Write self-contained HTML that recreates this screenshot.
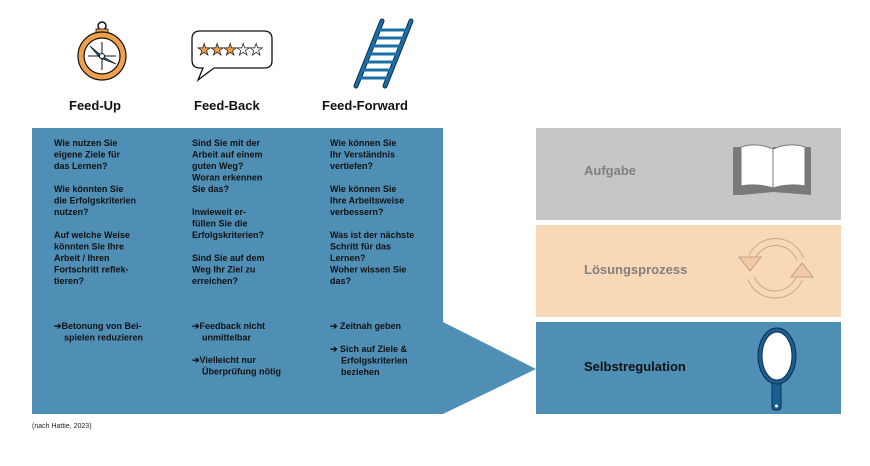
<!DOCTYPE html>
<html><head><meta charset="utf-8"><style>
html,body{margin:0;padding:0;background:#fff;}
svg{display:block;font-family:"Liberation Sans",sans-serif;}
.t{font-size:9px;font-weight:bold;fill:#111;}
.h{font-size:13px;font-weight:bold;fill:#111;}
</style></head><body>
<svg width="870" height="466" viewBox="0 0 870 466" xmlns="http://www.w3.org/2000/svg">
<path d="M32 128 H443 V322 L536 369 L443 414 H32 Z" fill="#4f8fb5"/>
<rect x="536" y="128" width="305" height="92" fill="#c6c6c6"/>
<rect x="536" y="225" width="305" height="92" fill="#f9d8b8"/>
<rect x="536" y="322" width="305" height="92" fill="#4f8fb5"/>
<text x="584" y="175" font-size="13" font-weight="bold" fill="#808080">Aufgabe</text>
<text x="584" y="274" font-size="13" font-weight="bold" fill="#808080">Lösungsprozess</text>
<text x="584" y="371" font-size="13" font-weight="bold" fill="#111">Selbstregulation</text>
<!-- book -->
<path d="M733 147 H741 V151 L773 151 V147 H811 V195 L773 192 L741 195 L733 195 Z" fill="#7a7a7a"/>
<path d="M741 147 Q757 142 773 149 V188 Q757 183 741 186 Z" fill="#fff" stroke="#7a7a7a"/>
<path d="M773 149 Q789 142 805 147 V186 Q789 183 773 188 Z" fill="#fff" stroke="#7a7a7a"/>
<!-- cycle -->
<g fill="none">
<path d="M752 257 A26 26 0 0 1 800 259" stroke="#c9a78d" stroke-width="8"/>
<path d="M752 257 A26 26 0 0 1 800 259" stroke="#f9d8b8" stroke-width="6"/>
<path d="M799 279 A26 26 0 0 1 751 278" stroke="#c9a78d" stroke-width="8"/>
<path d="M799 279 A26 26 0 0 1 751 278" stroke="#f9d8b8" stroke-width="6"/>
</g>
<path d="M739 257 H761 L750 271 Z" fill="#f5c9a4" stroke="#b0957f" stroke-width="0.8"/>
<path d="M791 277 H813 L802 263 Z" fill="#f5c9a4" stroke="#b0957f" stroke-width="0.8"/>
<!-- mirror -->
<rect x="772" y="380" width="9" height="30" rx="3" fill="#1a5f91" stroke="#0d2f4a"/>
<circle cx="776.5" cy="406" r="1.5" fill="#fff"/>
<ellipse cx="777" cy="356" rx="19" ry="28" fill="#1a5f91" stroke="#0d2f4a"/>
<ellipse cx="777" cy="356" rx="15" ry="24" fill="#fff" stroke="#0d2f4a"/>
<!-- compass -->
<circle cx="102" cy="26" r="4" fill="none" stroke="#111" stroke-width="1.5"/>
<rect x="96" y="29" width="12" height="4" fill="#f0a04b" stroke="#111" stroke-width="0.8"/>
<circle cx="102" cy="56" r="24" fill="#f0a04b" stroke="#111" stroke-width="1.2"/>
<circle cx="102" cy="56" r="18" fill="#fff" stroke="#111" stroke-width="1.2"/>
<path d="M102 42 V70 M88 56 H116" stroke="#111" stroke-width="1"/>
<path d="M90 46 L102 56 L116 64 L100 58 Z" fill="#1a5f91" stroke="#111" stroke-width="0.7"/>
<circle cx="102" cy="56" r="2.5" fill="#fff" stroke="#111"/>
<!-- speech bubble -->
<path d="M200 31 H264 Q272 31 272 39 V61 Q272 68 264 68 H214 L198 80 L203 68 H200 Q192 68 192 60 V39 Q192 31 200 31 Z" fill="#fff" stroke="#111" stroke-width="1.3"/>
<g font-size="16" stroke="#111" stroke-width="0.7">
<text x="197" y="55" fill="#f0a04b">★</text><text x="210" y="55" fill="#f0a04b">★</text><text x="223" y="55" fill="#f0a04b">★</text><text x="236" y="55" fill="#fff">★</text><text x="249" y="55" fill="#fff">★</text>
</g>
<!-- ladder -->
<g stroke="#0d2f4a" stroke-width="5" stroke-linecap="round">
<line x1="382" y1="21" x2="356" y2="86"/><line x1="411" y1="21" x2="385" y2="86"/>
</g>
<g stroke="#1a6fa6" stroke-width="3" stroke-linecap="round">
<line x1="382" y1="21" x2="356" y2="86"/><line x1="411" y1="21" x2="385" y2="86"/>
<line x1="378" y1="30" x2="406" y2="30"/><line x1="375" y1="38" x2="403" y2="38"/><line x1="372" y1="46" x2="400" y2="46"/><line x1="369" y1="54" x2="397" y2="54"/><line x1="366" y1="62" x2="394" y2="62"/><line x1="363" y1="70" x2="391" y2="70"/><line x1="360" y1="78" x2="388" y2="78"/>
</g>
<text class="h" x="69" y="110">Feed-Up</text>
<text class="h" x="194" y="110">Feed-Back</text>
<text class="h" x="322" y="110">Feed-Forward</text>
<g class="t">
<text x="54" y="146">Wie nutzen Sie</text><text x="54" y="157.5">eigene Ziele für</text><text x="54" y="169">das Lernen?</text>
<text x="54" y="192">Wie könnten Sie</text><text x="54" y="203.5">die Erfolgskriterien</text><text x="54" y="215">nutzen?</text>
<text x="54" y="238">Auf welche Weise</text><text x="54" y="249.5">könnten Sie Ihre</text><text x="54" y="261">Arbeit / Ihren</text><text x="54" y="272.5">Fortschritt reflek-</text><text x="54" y="284">tieren?</text>
<text x="54" y="329">➔Betonung von Bei-</text><text x="64" y="340.5">spielen reduzieren</text>
</g>
<g class="t">
<text x="192" y="146">Sind Sie mit der</text><text x="192" y="157.5">Arbeit auf einem</text><text x="192" y="169">guten Weg?</text><text x="192" y="180.5">Woran erkennen</text><text x="192" y="192">Sie das?</text>
<text x="192" y="215">Inwieweit er-</text><text x="192" y="226.5">füllen Sie die</text><text x="192" y="238">Erfolgskriterien?</text>
<text x="192" y="261">Sind Sie auf dem</text><text x="192" y="272.5">Weg Ihr Ziel zu</text><text x="192" y="284">erreichen?</text>
<text x="192" y="329">➔Feedback nicht</text><text x="202" y="340.5">unmittelbar</text>
<text x="192" y="363">➔Vielleicht nur</text><text x="202" y="374.5">Überprüfung nötig</text>
</g>
<g class="t">
<text x="330" y="146">Wie können Sie</text><text x="330" y="157.5">Ihr Verständnis</text><text x="330" y="169">vertiefen?</text>
<text x="330" y="192">Wie können Sie</text><text x="330" y="203.5">Ihre Arbeitsweise</text><text x="330" y="215">verbessern?</text>
<text x="330" y="238">Was ist der nächste</text><text x="330" y="249.5">Schritt für das</text><text x="330" y="261">Lernen?</text><text x="330" y="272.5">Woher wissen Sie</text><text x="330" y="284">das?</text>
<text x="330" y="329">➔ Zeitnah geben</text>
<text x="330" y="352">➔ Sich auf Ziele &amp;</text><text x="341" y="363.5">Erfolgskriterien</text><text x="341" y="375">beziehen</text>
</g>
<text x="32" y="428" font-size="7" fill="#222">(nach Hattie, 2023)</text>
</svg>
</body></html>
